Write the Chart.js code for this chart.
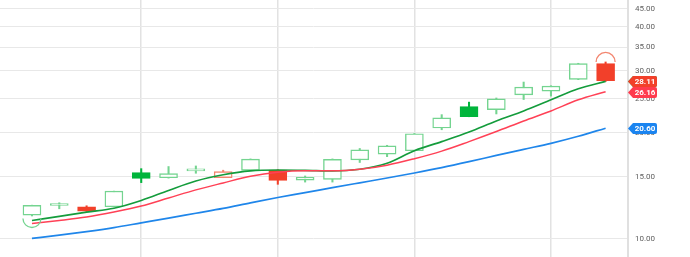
<!DOCTYPE html>
<html>
<head>
<meta charset="utf-8">
<script src="https://cdn.jsdelivr.net/npm/chart.js@4/dist/chart.umd.min.js"></script>
<style>
	html, body { margin: 0; padding: 0; background: #fff; }
	#wrap { width: 690px; height: 257px; }
</style>
</head>
<body>
<div id="wrap"><canvas id="Candles"></canvas></div>
<script>
// price data, one entry per session
const opens  = [11.66, 12.42, 12.32, 12.32, 15.41, 14.90, 15.58, 14.91, 15.64, 15.67, 14.67, 14.74, 16.74, 17.38, 17.77, 20.62, 23.73, 23.26, 25.63, 26.25, 28.34, 31.42];
const highs  = [12.45, 12.65, 12.40, 13.65, 15.81, 16.03, 16.09, 15.65, 16.85, 15.70, 15.07, 16.85, 18.04, 18.42, 19.90, 22.51, 24.43, 25.10, 27.86, 27.20, 31.50, 31.77];
const lows   = [11.60, 12.16, 11.95, 12.32, 14.43, 14.86, 15.34, 14.90, 15.62, 14.27, 14.48, 14.48, 16.46, 17.10, 17.75, 20.39, 22.20, 22.61, 24.85, 25.41, 28.30, 27.97];
const closes = [12.43, 12.44, 11.97, 13.65, 14.84, 15.31, 15.62, 15.51, 16.82, 14.65, 14.94, 16.79, 17.88, 18.35, 19.86, 22.03, 22.22, 24.96, 26.96, 27.13, 31.42, 28.11];

// moving averages
const maGreen = [11.26, 11.57, 11.90, 12.20, 12.84, 13.71, 14.58, 15.19, 15.59, 15.67, 15.64, 15.57, 15.75, 16.38, 17.78, 18.87, 20.09, 21.60, 23.06, 24.80, 26.66, 27.97];
const maRed   = [11.04, 11.26, 11.52, 11.90, 12.38, 13.05, 13.76, 14.40, 15.04, 15.44, 15.59, 15.59, 15.75, 16.17, 16.87, 17.73, 18.87, 20.15, 21.60, 23.06, 24.80, 26.16];
const maBlue  = [10.02, 10.23, 10.47, 10.75, 11.09, 11.44, 11.81, 12.19, 12.64, 13.09, 13.51, 13.96, 14.41, 14.87, 15.37, 15.92, 16.55, 17.24, 17.94, 18.66, 19.54, 20.60];

const yTicks = [10, 15, 20, 25, 30, 35, 40, 45];
const xGridAt = [4, 9, 14, 19];

// event markers: session index and whether it sits under the low or over the high
const eventIdx = [0, 21];
const eventSide = ["below", "above"];

const GREEN = "#00b53c";
const GREEN_LIGHT = "#74d490";
const RED = "#f2402a";
const RED_LIGHT = "#f38670";

const isUp = (i) => i === 0 || closes[i] >= closes[i - 1];
const isHollow = (i) => closes[i] >= opens[i];

const bodyFill = opens.map((o, i) => (isHollow(i) ? "#ffffff" : isUp(i) ? GREEN : RED));
const bodyLine = opens.map((o, i) => {
	if (isHollow(i)) return isUp(i) ? GREEN_LIGHT : RED_LIGHT;
	return isUp(i) ? GREEN : RED;
});

const badges = [
	{ value: maGreen[maGreen.length - 1], color: "#149c3c" },
	{ value: maRed[maRed.length - 1], color: "#ff3b4e" },
	{ value: maBlue[maBlue.length - 1], color: "#1a84f0" },
	{ value: closes[closes.length - 1], color: RED },
];

const eventPlugin = {
	id: "events",
	afterDatasetsDraw(chart) {
		const { ctx, scales } = chart;
		ctx.save();
		ctx.lineWidth = 1.3;
		eventIdx.forEach((idx, k) => {
			const x = scales.x.getPixelForValue(idx);
			ctx.beginPath();
			if (eventSide[k] === "below") {
				const y = scales.y.getPixelForValue(lows[idx]) + 2.5;
				ctx.strokeStyle = GREEN_LIGHT;
				ctx.arc(x, y, 9, 0, Math.PI);
			} else {
				const y = scales.y.getPixelForValue(highs[idx]);
				ctx.strokeStyle = RED_LIGHT;
				ctx.arc(x, y, 9.5, Math.PI, 2 * Math.PI);
			}
			ctx.stroke();
		});
		ctx.restore();
	},
};

// last-value tags on the price axis
const badgePlugin = {
	id: "badges",
	afterDraw(chart) {
		const { ctx, scales, chartArea } = chart;
		const x0 = chartArea.right;
		ctx.save();
		badges.forEach((b) => {
			const y = Math.round(scales.y.getPixelForValue(b.value)) + 0.5;
			const h = 5.5;
			const r = 2;
			const x1 = x0 + 5;
			const x2 = x0 + 29;
			ctx.beginPath();
			ctx.moveTo(x0, y);
			ctx.lineTo(x1, y - h);
			ctx.lineTo(x2 - r, y - h);
			ctx.quadraticCurveTo(x2, y - h, x2, y - h + r);
			ctx.lineTo(x2, y + h - r);
			ctx.quadraticCurveTo(x2, y + h, x2 - r, y + h);
			ctx.lineTo(x1, y + h);
			ctx.closePath();
			ctx.fillStyle = b.color;
			ctx.fill();
			ctx.fillStyle = "#ffffff";
			ctx.font = "bold 8px Roboto";
			ctx.textAlign = "center";
			ctx.textBaseline = "middle";
			ctx.fillText(b.value.toFixed(2), x0 + 17, y + 0.5);
		});
		ctx.restore();
	},
};

const ctx = document.getElementById("Candles").getContext("2d");

const noPad = (scale) => {
	scale.paddingTop = 0;
	scale.paddingBottom = 0;
	scale.paddingLeft = 0;
	scale.paddingRight = 0;
};

new Chart(ctx, {
	data: {
		datasets: [
			{
				type: "line",
				data: maBlue.map((v, i) => ({ x: i, y: v })),
				borderColor: "#1f86ea",
				borderWidth: 1.7,
				pointRadius: 0,
				cubicInterpolationMode: "monotone",
				order: 1,
			},
			{
				type: "line",
				data: maRed.map((v, i) => ({ x: i, y: v })),
				borderColor: "#ff4156",
				borderWidth: 1.5,
				pointRadius: 0,
				cubicInterpolationMode: "monotone",
				order: 1,
			},
			{
				type: "line",
				data: maGreen.map((v, i) => ({ x: i, y: v })),
				borderColor: "#149c3c",
				borderWidth: 1.7,
				pointRadius: 0,
				cubicInterpolationMode: "monotone",
				order: 1,
			},
			{
				// candle bodies
				type: "bar",
				data: opens.map((o, i) => ({ x: i, y: [o, closes[i]] })),
				backgroundColor: bodyFill,
				borderColor: bodyLine,
				borderWidth: 1.4,
				borderSkipped: false,
				barThickness: 18,
				minBarLength: 2,
				grouped: false,
				order: 2,
			},
			{
				// wicks
				type: "bar",
				data: lows.map((l, i) => ({ x: i, y: [l, highs[i]] })),
				backgroundColor: bodyLine,
				borderWidth: 0,
				barThickness: 1.4,
				grouped: false,
				order: 3,
			},
		],
	},
	options: {
		responsive: true,
		maintainAspectRatio: false,
		animation: false,
		layout: { padding: 0 },
		plugins: {
			legend: { display: false },
			tooltip: { enabled: false },
		},
		scales: {
			x: {
				type: "linear",
				offset: false,
				min: -1.17,
				max: 21.82,
				ticks: { display: false },
				grid: { color: "#e2e2e2", lineWidth: 1.5, drawTicks: false, offset: false },
				border: { display: false },
				afterBuildTicks: (scale) => {
					scale.ticks = xGridAt.map((v) => ({ value: v }));
				},
				afterFit: (scale) => {
					scale.height = 0;
					noPad(scale);
				},
			},
			y: {
				type: "logarithmic",
				position: "right",
				offset: false,
				min: 8.87,
				max: 47.65,
				grid: { color: "#e8e8e8", lineWidth: 1, drawTicks: false },
				border: { display: true, color: "#e0e0e0", width: 2 },
				ticks: {
					padding: 7,
					color: "#5f5f5f",
					font: { size: 8, family: "Roboto" },
					callback: (v) => Number(v).toFixed(2),
				},
				afterBuildTicks: (scale) => {
					scale.ticks = yTicks.map((v) => ({ value: v }));
				},
				afterFit: (scale) => {
					scale.width = 62;
					noPad(scale);
				},
			},
		},
	},
	plugins: [eventPlugin, badgePlugin],
});
</script>
</body>
</html>
